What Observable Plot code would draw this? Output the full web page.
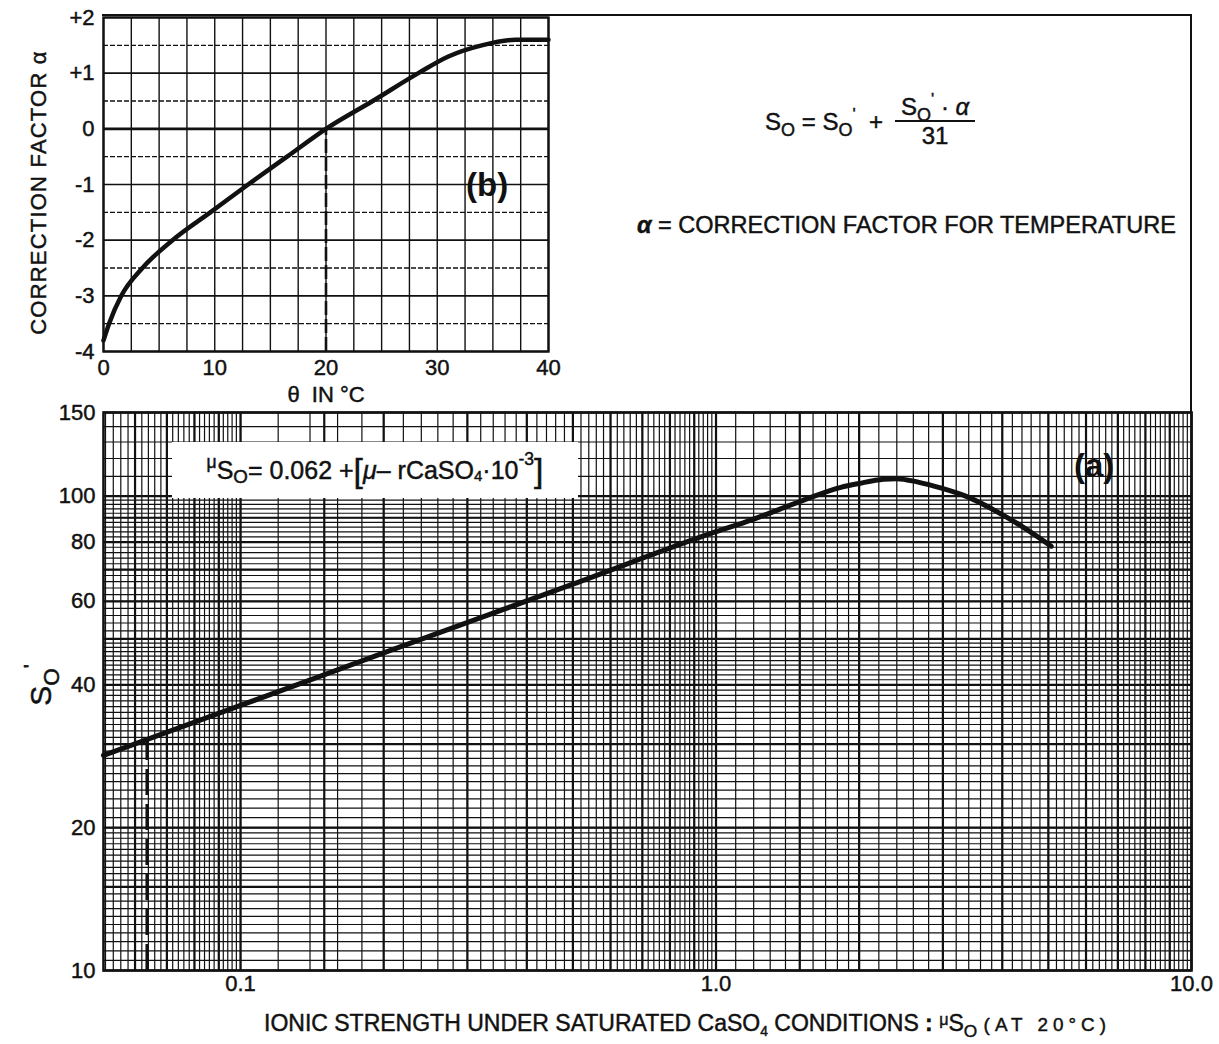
<!DOCTYPE html>
<html><head><meta charset="utf-8">
<script src="https://cdn.jsdelivr.net/npm/d3@7"></script>
<script src="https://cdn.jsdelivr.net/npm/@observablehq/plot@0.6"></script>
<style>
body{margin:0;background:#fff;font-family:"Liberation Sans",Arial,sans-serif;color:#111}
#wrap{position:relative;width:1219px;height:1044px;overflow:hidden;background:#fff}
.abs{position:absolute;white-space:nowrap;-webkit-text-stroke:0.45px #111}
.sb{font-size:0.75em;position:relative;top:0.35em}
.sp{font-size:0.7em;position:relative;top:-0.6em}
svg{position:absolute;overflow:visible}
svg text{stroke:#111;stroke-width:0.45px}
</style></head><body><div id="wrap"></div>
<script>
// ---- data ----
const thetaC    = [0, 0.5, 1.6, 3.5, 6.2, 9.6, 13.0, 16.5, 20, 24.2, 28.3, 31, 34, 37, 40];
const alphaVals = [-3.8, -3.5, -3.0, -2.5, -2.0, -1.5, -1.0, -0.5, 0, 0.5, 1.0, 1.3, 1.5, 1.6, 1.6];
const muSo      = [0.0515, 0.1, 0.2, 0.5, 1.0, 1.185, 1.51, 1.83, 2.0, 2.25, 2.4, 2.66, 2.98, 3.39, 3.98, 4.49, 5.07];
const soPrime   = [28.4, 36.2, 46.7, 65.2, 84.1, 89.0, 97.6, 104.3, 106.3, 108.5, 108.8, 107.0, 103.9, 99.5, 91.6, 85.2, 78.4];
const thetaTicks = [0, 10, 20, 30, 40];
const alphaTicks = [-4, -3, -2, -1, 0, 1, 2];
const muTicks = [0.1, 1, 10];
const muTickLabels = ["0.1", "1.0", "10.0"];
const soTicks = [10, 20, 40, 60, 80, 100, 150];
const thetaRef = 20;                 // dashed reading line in (b)
const muRef = 0.0635, soRef = 30.7;  // dashed reading line in (a)

// ---- grid helpers ----
function rng(a, b, s){ const o=[]; for(let v=a; v<=b+1e-9; v+=s) o.push(+v.toFixed(6)); return o; }
const bGridX = rng(0, 40, 2.5);
const bGridYInt = rng(-4, 2, 1);
const bGridYHalf = rng(-3.5, 1.5, 1);
const aGridXFine = [...rng(0.052,0.1,0.002), ...rng(0.1,0.5,0.02), ...rng(0.5,1,0.02), ...rng(1,2,0.1), ...rng(2,3,0.2), ...rng(3,10,0.2)];
const aGridXBold = [0.06,0.07,0.08,0.09,0.1,0.15,0.2,0.3,0.4,0.5,0.6,0.7,0.8,0.9,1,1.5,2,3,4,5,6,7,8,9,10];
const aGridYFine = [...rng(10,20,0.5), ...rng(20,50,1), ...rng(50,100,2), ...rng(100,150,10)];
const aGridYBold = [10,15,20,30,40,50,60,70,80,90,100,150];

const FONT = '"Liberation Sans", Arial, sans-serif';
const INK = "#111";
const wrap = document.getElementById("wrap");

// ---- (b) correction factor ----
const bData = thetaC.map((t,i)=>({t, a: alphaVals[i]}));
const pb = Plot.plot({
  width: 600, height: 410,
  marginLeft: 103, marginRight: 52, marginTop: 17, marginBottom: 59,
  style: {fontFamily: FONT, fontSize: "22px", color: INK, background: "transparent"},
  x: {domain: [0, 40], ticks: thetaTicks, tickSize: 0, tickPadding: 8,
      label: "θ  IN °C", labelAnchor: "center", labelArrow: "none", labelOffset: 50},
  y: {domain: [-4, 2], ticks: alphaTicks, tickSize: 0, tickPadding: 9,
      tickFormat: d => d > 0 ? "+" + d : String(d),
      label: "CORRECTION FACTOR α", labelAnchor: "center", labelArrow: "none", labelOffset: 73},
  marks: [
    Plot.ruleX(bGridX, {stroke: INK, strokeWidth: 1.4}),
    Plot.ruleY(bGridYHalf, {stroke: INK, strokeWidth: 1.3, strokeDasharray: "5,2"}),
    Plot.ruleY(bGridYInt, {stroke: INK, strokeWidth: 1.7}),
    Plot.ruleY([0], {stroke: INK, strokeWidth: 2.8}),
    Plot.ruleX([thetaRef], {y1: -4, y2: 0, stroke: INK, strokeWidth: 2.6, strokeDasharray: "14,4"}),
    Plot.line(bData, {x: "t", y: "a", curve: "monotone-x", stroke: INK, strokeWidth: 4.5}),
    Plot.frame({stroke: INK, strokeWidth: 2.4})
  ]
});
pb.style.left = "0px"; pb.style.top = "0px";
// y-axis title of (b): slightly tracked and centred like the reference
pb.querySelectorAll("text").forEach(t => {
  if (t.textContent.startsWith("CORRECTION")) {
    t.setAttribute("letter-spacing", "1.2");
    t.setAttribute("dx", "-8");
  }
});

// ---- (a) S_O' vs ionic strength ----
const aData = muSo.map((m,i)=>({m, s: soPrime[i]}));
const pa = Plot.plot({
  width: 1219, height: 644,
  marginLeft: 103, marginRight: 28, marginTop: 12, marginBottom: 74,
  style: {fontFamily: FONT, fontSize: "22px", color: INK, background: "transparent"},
  x: {type: "log", domain: [0.0515, 10], ticks: muTicks, tickSize: 0, tickPadding: 5,
      tickFormat: d => muTickLabels[muTicks.indexOf(d)], label: null},
  y: {type: "log", domain: [10, 150], ticks: soTicks, tickSize: 0, tickPadding: 8,
      tickFormat: d => String(d), label: null},
  marks: [
    Plot.ruleX(aGridXFine, {stroke: INK, strokeWidth: 1.2}),
    Plot.ruleY(aGridYFine, {stroke: INK, strokeWidth: 1.2}),
    Plot.ruleX(aGridXBold, {stroke: INK, strokeWidth: 2.2}),
    Plot.ruleY(aGridYBold, {stroke: INK, strokeWidth: 2.2}),
    Plot.ruleX([muRef], {y1: 10, y2: soRef, stroke: INK, strokeWidth: 2.6, strokeDasharray: "26,9"}),
    Plot.line(aData, {x: "m", y: "s", curve: "monotone-x", stroke: INK, strokeWidth: 5}),
    Plot.frame({stroke: INK, strokeWidth: 2.6})
  ]
});
pa.style.left = "0px"; pa.style.top = "400px";

// outer frame joining the two panels
const frame = document.createElement("div");
frame.style.cssText = "position:absolute;left:102px;top:14px;width:1088px;height:398px;border-top:2.4px solid #111;border-right:2.6px solid #111;";
wrap.appendChild(frame);
wrap.appendChild(pb);
wrap.appendChild(pa);

// ---- text overlays ----
function addHTML(html, css){ const d=document.createElement("div"); d.className="abs"; d.style.cssText=css; d.innerHTML=html; wrap.appendChild(d); return d; }

// formula for S_O
addHTML(`<span>S<span class="sb">O</span> = S<span class="sb">O</span><span class="sp">'</span>&nbsp;&nbsp;+</span>
  <span style="display:inline-flex;flex-direction:column;align-items:center;margin-left:12px;vertical-align:middle">
    <span style="border-bottom:2.2px solid #111;padding:0 6px 0 6px;line-height:1.1">S<span class="sb">O</span><span class="sp">'</span>&nbsp;·&nbsp;<i>α</i></span>
    <span style="line-height:1.15">31</span>
  </span>`,
  `left:765px;top:94px;font-size:24px;display:flex;align-items:center;`);

addHTML(`<b><i>α</i></b> = CORRECTION FACTOR FOR TEMPERATURE`,
  `left:637px;top:212px;font-size:23.5px;`);

addHTML(`(b)`, `left:466px;top:166px;font-size:33px;font-weight:bold;-webkit-text-stroke:0;`);
addHTML(`(a)`, `left:1074px;top:447px;font-size:33px;font-weight:bold;-webkit-text-stroke:0;`);

// white box with the ionic-strength formula
addHTML(`<span class="sp" style="top:-0.45em">μ</span>S<span class="sb">O</span> = 0.062 +<span style="font-size:1.35em;vertical-align:-0.08em">[</span><i>μ</i> – rCaSO<span class="sb" style="font-size:0.6em">4</span> ·10<span class="sp">-3</span><span style="font-size:1.35em;vertical-align:-0.08em">]</span>`,
  `left:172px;top:442px;width:406px;height:56px;background:#fff;font-size:25px;display:flex;align-items:center;justify-content:center;`);

// y-axis title of (a)
addHTML(`S<span class="sb">O</span><span class="sp">'</span>`,
  `left:20px;top:668px;font-size:30px;transform:rotate(-90deg);transform-origin:center;`);

// x-axis title of (a)
addHTML(`IONIC STRENGTH UNDER SATURATED CaSO<span class="sb" style="font-size:0.6em">4</span> CONDITIONS <b>:</b> <span class="sp" style="top:-0.4em">μ</span>S<span class="sb">O</span> <span style="font-size:0.82em;letter-spacing:5px">(AT 20°C)</span>`,
  `left:264px;top:1010px;font-size:23px;`);
</script>
</body></html>
